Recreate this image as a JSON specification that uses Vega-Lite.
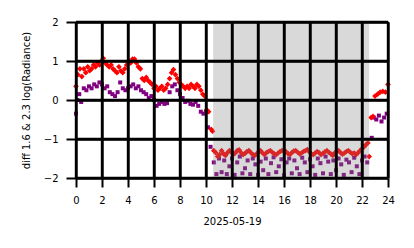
{
"$schema":"https://vega.github.io/schema/vega-lite/v6.json",
"width":312,"height":156,
"autosize":{"type":"none"},
"padding":{"left":76,"top":22,"right":26,"bottom":70},
"config":{"font":"DejaVu Sans","view":{"stroke":null}},
"resolve":{"axis":{"x":"independent","y":"independent"}},
"datasets":{
"shade":[{"start":10.55,"end":22.55}],
"xgrid":[{"hour":0},{"hour":2},{"hour":4},{"hour":6},{"hour":8},{"hour":10},{"hour":12},{"hour":14},{"hour":16},{"hour":18},{"hour":20},{"hour":22},{"hour":24}],
"ygrid":[{"value":-2},{"value":-1},{"value":0},{"value":1},{"value":2}],
"pts":[
{"hour":0.0,"value":0.35,"series":"r"},{"hour":0.15,"value":0.65,"series":"r"},{"hour":0.3,"value":0.8,"series":"r"},{"hour":0.45,"value":0.6,"series":"r"},{"hour":0.6,"value":0.8,"series":"r"},{"hour":0.75,"value":0.7,"series":"r"},{"hour":0.9,"value":0.85,"series":"r"},{"hour":1.05,"value":0.75,"series":"r"},{"hour":1.2,"value":0.8,"series":"r"},{"hour":1.35,"value":0.9,"series":"r"},{"hour":1.5,"value":0.85,"series":"r"},{"hour":1.65,"value":0.95,"series":"r"},{"hour":1.8,"value":0.9,"series":"r"},{"hour":1.95,"value":1.0,"series":"r"},{"hour":2.1,"value":1.07,"series":"r"},{"hour":2.25,"value":0.95,"series":"r"},{"hour":2.4,"value":0.9,"series":"r"},{"hour":2.55,"value":0.85,"series":"r"},{"hour":2.7,"value":0.9,"series":"r"},{"hour":2.85,"value":0.8,"series":"r"},{"hour":3.0,"value":0.75,"series":"r"},{"hour":3.15,"value":0.7,"series":"r"},{"hour":3.3,"value":0.85,"series":"r"},{"hour":3.45,"value":0.75,"series":"r"},{"hour":3.6,"value":0.7,"series":"r"},{"hour":3.75,"value":0.8,"series":"r"},{"hour":3.9,"value":0.9,"series":"r"},{"hour":4.05,"value":1.0,"series":"r"},{"hour":4.2,"value":0.95,"series":"r"},{"hour":4.35,"value":1.05,"series":"r"},{"hour":4.5,"value":1.05,"series":"r"},{"hour":4.65,"value":0.95,"series":"r"},{"hour":4.8,"value":0.85,"series":"r"},{"hour":4.95,"value":0.8,"series":"r"},{"hour":5.1,"value":0.55,"series":"r"},{"hour":5.25,"value":0.5,"series":"r"},{"hour":5.4,"value":0.58,"series":"r"},{"hour":5.55,"value":0.5,"series":"r"},{"hour":5.7,"value":0.45,"series":"r"},{"hour":5.85,"value":0.4,"series":"r"},{"hour":6.0,"value":0.3,"series":"r"},{"hour":6.15,"value":0.35,"series":"r"},{"hour":6.3,"value":0.25,"series":"r"},{"hour":6.45,"value":0.3,"series":"r"},{"hour":6.6,"value":0.35,"series":"r"},{"hour":6.75,"value":0.25,"series":"r"},{"hour":6.9,"value":0.3,"series":"r"},{"hour":7.05,"value":0.4,"series":"r"},{"hour":7.2,"value":0.55,"series":"r"},{"hour":7.35,"value":0.7,"series":"r"},{"hour":7.5,"value":0.78,"series":"r"},{"hour":7.65,"value":0.65,"series":"r"},{"hour":7.8,"value":0.55,"series":"r"},{"hour":7.95,"value":0.45,"series":"r"},{"hour":8.1,"value":0.4,"series":"r"},{"hour":8.25,"value":0.35,"series":"r"},{"hour":8.4,"value":0.3,"series":"r"},{"hour":8.55,"value":0.35,"series":"r"},{"hour":8.7,"value":0.3,"series":"r"},{"hour":8.85,"value":0.4,"series":"r"},{"hour":9.0,"value":0.35,"series":"r"},{"hour":9.15,"value":0.3,"series":"r"},{"hour":9.3,"value":0.4,"series":"r"},{"hour":9.45,"value":0.35,"series":"r"},{"hour":9.6,"value":0.25,"series":"r"},{"hour":9.75,"value":0.15,"series":"r"},{"hour":9.9,"value":0.1,"series":"r"},{"hour":10.05,"value":-0.25,"series":"r"},{"hour":10.2,"value":-0.3,"series":"r"},{"hour":10.4,"value":-0.75,"series":"r"},{"hour":10.5,"value":-0.8,"series":"r"},
{"hour":10.6,"value":-1.3,"series":"r"},{"hour":10.75,"value":-1.35,"series":"r"},{"hour":10.9,"value":-1.45,"series":"r"},{"hour":11.05,"value":-1.4,"series":"r"},{"hour":11.2,"value":-1.3,"series":"r"},{"hour":11.35,"value":-1.38,"series":"r"},{"hour":11.5,"value":-1.42,"series":"r"},{"hour":11.65,"value":-1.35,"series":"r"},{"hour":11.8,"value":-1.3,"series":"r"},{"hour":11.95,"value":-1.33,"series":"r"},
{"hour":12.1,"value":-1.4,"series":"r"},{"hour":12.25,"value":-1.36,"series":"r"},{"hour":12.4,"value":-1.3,"series":"r"},{"hour":12.55,"value":-1.28,"series":"r"},{"hour":12.7,"value":-1.35,"series":"r"},{"hour":12.85,"value":-1.4,"series":"r"},{"hour":13.0,"value":-1.37,"series":"r"},{"hour":13.15,"value":-1.32,"series":"r"},{"hour":13.3,"value":-1.3,"series":"r"},{"hour":13.45,"value":-1.35,"series":"r"},
{"hour":13.6,"value":-1.4,"series":"r"},{"hour":13.75,"value":-1.42,"series":"r"},{"hour":13.9,"value":-1.38,"series":"r"},{"hour":14.05,"value":-1.33,"series":"r"},{"hour":14.2,"value":-1.3,"series":"r"},{"hour":14.35,"value":-1.36,"series":"r"},{"hour":14.5,"value":-1.4,"series":"r"},{"hour":14.65,"value":-1.35,"series":"r"},{"hour":14.8,"value":-1.32,"series":"r"},{"hour":14.95,"value":-1.3,"series":"r"},
{"hour":15.1,"value":-1.34,"series":"r"},{"hour":15.25,"value":-1.38,"series":"r"},{"hour":15.4,"value":-1.4,"series":"r"},{"hour":15.55,"value":-1.36,"series":"r"},{"hour":15.7,"value":-1.32,"series":"r"},{"hour":15.85,"value":-1.3,"series":"r"},{"hour":16.0,"value":-1.28,"series":"r"},{"hour":16.15,"value":-1.33,"series":"r"},{"hour":16.3,"value":-1.37,"series":"r"},{"hour":16.45,"value":-1.4,"series":"r"},
{"hour":16.6,"value":-1.35,"series":"r"},{"hour":16.75,"value":-1.31,"series":"r"},{"hour":16.9,"value":-1.3,"series":"r"},{"hour":17.05,"value":-1.34,"series":"r"},{"hour":17.2,"value":-1.38,"series":"r"},{"hour":17.35,"value":-1.36,"series":"r"},{"hour":17.5,"value":-1.32,"series":"r"},{"hour":17.65,"value":-1.3,"series":"r"},{"hour":17.8,"value":-1.27,"series":"r"},{"hour":17.95,"value":-1.33,"series":"r"},
{"hour":18.1,"value":-1.38,"series":"r"},{"hour":18.25,"value":-1.4,"series":"r"},{"hour":18.4,"value":-1.36,"series":"r"},{"hour":18.55,"value":-1.32,"series":"r"},{"hour":18.7,"value":-1.35,"series":"r"},{"hour":18.85,"value":-1.4,"series":"r"},{"hour":19.0,"value":-1.37,"series":"r"},{"hour":19.15,"value":-1.33,"series":"r"},{"hour":19.3,"value":-1.3,"series":"r"},{"hour":19.45,"value":-1.34,"series":"r"},
{"hour":19.6,"value":-1.38,"series":"r"},{"hour":19.75,"value":-1.42,"series":"r"},{"hour":19.9,"value":-1.36,"series":"r"},{"hour":20.05,"value":-1.32,"series":"r"},{"hour":20.2,"value":-1.3,"series":"r"},{"hour":20.35,"value":-1.35,"series":"r"},{"hour":20.5,"value":-1.39,"series":"r"},{"hour":20.65,"value":-1.36,"series":"r"},{"hour":20.8,"value":-1.32,"series":"r"},{"hour":20.95,"value":-1.3,"series":"r"},
{"hour":21.1,"value":-1.34,"series":"r"},{"hour":21.25,"value":-1.38,"series":"r"},{"hour":21.4,"value":-1.36,"series":"r"},{"hour":21.55,"value":-1.4,"series":"r"},{"hour":21.7,"value":-1.35,"series":"r"},{"hour":21.85,"value":-1.3,"series":"r"},{"hour":22.0,"value":-1.25,"series":"r"},{"hour":22.15,"value":-1.2,"series":"r"},{"hour":22.3,"value":-1.15,"series":"r"},{"hour":22.45,"value":-1.1,"series":"r"},
{"hour":22.55,"value":-1.45,"series":"r"},{"hour":22.7,"value":-0.45,"series":"r"},{"hour":22.85,"value":-0.42,"series":"r"},{"hour":23.0,"value":0.1,"series":"r"},{"hour":23.2,"value":0.15,"series":"r"},{"hour":23.4,"value":0.2,"series":"r"},{"hour":23.6,"value":0.22,"series":"r"},{"hour":23.8,"value":0.2,"series":"r"},{"hour":24.0,"value":0.4,"series":"r"},
{"hour":0.0,"value":-0.35,"series":"p"},{"hour":0.1,"value":0.0,"series":"p"},{"hour":0.25,"value":0.15,"series":"p"},{"hour":0.4,"value":-0.05,"series":"p"},{"hour":0.6,"value":0.3,"series":"p"},{"hour":0.8,"value":0.25,"series":"p"},{"hour":1.0,"value":0.35,"series":"p"},{"hour":1.2,"value":0.3,"series":"p"},{"hour":1.4,"value":0.4,"series":"p"},{"hour":1.6,"value":0.35,"series":"p"},{"hour":1.8,"value":0.45,"series":"p"},{"hour":2.0,"value":0.4,"series":"p"},{"hour":2.2,"value":0.3,"series":"p"},{"hour":2.4,"value":0.35,"series":"p"},{"hour":2.6,"value":0.2,"series":"p"},{"hour":2.8,"value":0.15,"series":"p"},{"hour":3.0,"value":0.1,"series":"p"},{"hour":3.2,"value":0.2,"series":"p"},{"hour":3.4,"value":0.45,"series":"p"},{"hour":3.6,"value":0.3,"series":"p"},{"hour":3.8,"value":0.25,"series":"p"},{"hour":4.0,"value":0.3,"series":"p"},{"hour":4.2,"value":0.35,"series":"p"},{"hour":4.4,"value":0.4,"series":"p"},{"hour":4.6,"value":0.3,"series":"p"},{"hour":4.8,"value":0.35,"series":"p"},{"hour":5.0,"value":0.25,"series":"p"},{"hour":5.2,"value":0.2,"series":"p"},{"hour":5.4,"value":0.15,"series":"p"},{"hour":5.6,"value":0.05,"series":"p"},{"hour":5.8,"value":0.1,"series":"p"},{"hour":6.0,"value":0.0,"series":"p"},{"hour":6.2,"value":-0.15,"series":"p"},{"hour":6.4,"value":-0.1,"series":"p"},{"hour":6.6,"value":-0.05,"series":"p"},{"hour":6.8,"value":-0.1,"series":"p"},{"hour":7.0,"value":-0.08,"series":"p"},{"hour":7.2,"value":0.2,"series":"p"},{"hour":7.4,"value":0.35,"series":"p"},{"hour":7.6,"value":0.4,"series":"p"},{"hour":7.8,"value":0.25,"series":"p"},{"hour":8.0,"value":0.15,"series":"p"},{"hour":8.2,"value":0.05,"series":"p"},{"hour":8.4,"value":-0.05,"series":"p"},{"hour":8.6,"value":-0.02,"series":"p"},{"hour":8.8,"value":-0.1,"series":"p"},{"hour":9.0,"value":-0.12,"series":"p"},{"hour":9.2,"value":-0.05,"series":"p"},{"hour":9.4,"value":-0.15,"series":"p"},{"hour":9.6,"value":-0.3,"series":"p"},{"hour":9.8,"value":-0.35,"series":"p"},{"hour":10.0,"value":-0.3,"series":"p"},{"hour":10.15,"value":-0.7,"series":"p"},{"hour":10.35,"value":-1.2,"series":"p"},
{"hour":10.6,"value":-1.6,"series":"p"},{"hour":10.8,"value":-1.9,"series":"p"},{"hour":11.0,"value":-1.5,"series":"p"},{"hour":11.2,"value":-1.85,"series":"p"},{"hour":11.4,"value":-1.55,"series":"p"},{"hour":11.6,"value":-1.9,"series":"p"},{"hour":11.8,"value":-1.7,"series":"p"},{"hour":12.0,"value":-1.5,"series":"p"},{"hour":12.2,"value":-1.92,"series":"p"},{"hour":12.4,"value":-1.6,"series":"p"},
{"hour":12.6,"value":-1.45,"series":"p"},{"hour":12.8,"value":-1.88,"series":"p"},{"hour":13.0,"value":-1.75,"series":"p"},{"hour":13.2,"value":-1.55,"series":"p"},{"hour":13.4,"value":-1.9,"series":"p"},{"hour":13.6,"value":-1.5,"series":"p"},{"hour":13.8,"value":-1.65,"series":"p"},{"hour":14.0,"value":-1.92,"series":"p"},{"hour":14.2,"value":-1.58,"series":"p"},{"hour":14.4,"value":-1.8,"series":"p"},
{"hour":14.6,"value":-1.5,"series":"p"},{"hour":14.8,"value":-1.9,"series":"p"},{"hour":15.0,"value":-1.62,"series":"p"},{"hour":15.2,"value":-1.47,"series":"p"},{"hour":15.4,"value":-1.85,"series":"p"},{"hour":15.6,"value":-1.7,"series":"p"},{"hour":15.8,"value":-1.52,"series":"p"},{"hour":16.0,"value":-1.93,"series":"p"},{"hour":16.2,"value":-1.6,"series":"p"},{"hour":16.4,"value":-1.5,"series":"p"},
{"hour":16.6,"value":-1.88,"series":"p"},{"hour":16.8,"value":-1.55,"series":"p"},{"hour":17.0,"value":-1.75,"series":"p"},{"hour":17.2,"value":-1.9,"series":"p"},{"hour":17.4,"value":-1.48,"series":"p"},{"hour":17.6,"value":-1.6,"series":"p"},{"hour":17.8,"value":-1.85,"series":"p"},{"hour":18.0,"value":-1.52,"series":"p"},{"hour":18.2,"value":-1.7,"series":"p"},{"hour":18.4,"value":-1.92,"series":"p"},
{"hour":18.6,"value":-1.5,"series":"p"},{"hour":18.8,"value":-1.62,"series":"p"},{"hour":19.0,"value":-1.88,"series":"p"},{"hour":19.2,"value":-1.45,"series":"p"},{"hour":19.4,"value":-1.58,"series":"p"},{"hour":19.6,"value":-1.9,"series":"p"},{"hour":19.8,"value":-1.55,"series":"p"},{"hour":20.0,"value":-1.8,"series":"p"},{"hour":20.2,"value":-1.5,"series":"p"},{"hour":20.4,"value":-1.65,"series":"p"},
{"hour":20.6,"value":-1.92,"series":"p"},{"hour":20.8,"value":-1.53,"series":"p"},{"hour":21.0,"value":-1.6,"series":"p"},{"hour":21.2,"value":-1.85,"series":"p"},{"hour":21.4,"value":-1.48,"series":"p"},{"hour":21.6,"value":-1.7,"series":"p"},{"hour":21.8,"value":-1.9,"series":"p"},{"hour":22.0,"value":-1.55,"series":"p"},{"hour":22.2,"value":-1.45,"series":"p"},{"hour":22.4,"value":-1.6,"series":"p"},
{"hour":22.75,"value":-0.97,"series":"p"},{"hour":22.9,"value":-0.45,"series":"p"},{"hour":23.1,"value":-0.5,"series":"p"},{"hour":23.3,"value":-0.4,"series":"p"},{"hour":23.5,"value":-0.55,"series":"p"},{"hour":23.7,"value":-0.45,"series":"p"},{"hour":23.9,"value":-0.35,"series":"p"}
]},
"layer":[
{"data":{"name":"pts"},
"mark":{"type":"point","filled":true,"opacity":1,"strokeWidth":0},
"encoding":{
"x":{"field":"hour","type":"quantitative","scale":{"domain":[0,24],"nice":false,"zero":false},"axis":{"values":[0,2,4,6,8,10,12,14,16,18,20,22,24],"title":"2025-05-19","grid":true,"gridColor":"#000000","gridWidth":2.4,"gridOpacity":1,"zindex":1,"domain":false,"ticks":true,"tickColor":"#000000","tickWidth":2,"tickSize":9,"labelOverlap":false,"labelBound":false,"labelFlush":false,"labelPadding":8,"labelFontSize":10,"labelColor":"#000000","labelFont":"DejaVu Sans","titleFont":"DejaVu Sans","titleFontSize":10,"titleFontWeight":"normal","titleColor":"#000000","titlePadding":11}},
"y":{"field":"value","type":"quantitative","scale":{"domain":[-2,2],"nice":false},"axis":{"values":[-2,-1,0,1,2],"title":"diff 1.6 & 2.3  log(Radiance)","grid":true,"gridColor":"#000000","gridWidth":2.4,"gridOpacity":1,"zindex":1,"domain":false,"ticks":true,"tickColor":"#000000","tickWidth":2,"tickSize":10,"labelOverlap":false,"labelBound":false,"labelFlush":false,"labelPadding":8,"labelFontSize":10,"labelColor":"#000000","labelFont":"DejaVu Sans","titleFont":"DejaVu Sans","titleFontSize":10,"titleFontWeight":"normal","titleColor":"#000000","titlePadding":12}},
"color":{"field":"series","type":"nominal","scale":{"domain":["r","p"],"range":["#ff0000","#800080"]},"legend":null},
"shape":{"field":"series","type":"nominal","scale":{"domain":["r","p"],"range":["diamond","square"]},"legend":null},
"size":{"field":"series","type":"nominal","scale":{"domain":["r","p"],"range":[32,16]},"legend":null},
"order":{"field":"series","sort":"ascending"}}},
{"data":{"name":"shade"},
"mark":{"type":"rect","color":"gray","opacity":0.3},
"encoding":{"x":{"field":"start","type":"quantitative","axis":null},"x2":{"field":"end"}}},
{"data":{"name":"xgrid"},
"mark":{"type":"rule","color":"#000000","strokeWidth":2.4},
"encoding":{"x":{"field":"hour","type":"quantitative","axis":null}}},
{"data":{"name":"ygrid"},
"mark":{"type":"rule","color":"#000000","strokeWidth":2.4},
"encoding":{"y":{"field":"value","type":"quantitative","axis":null}}}
]
}
